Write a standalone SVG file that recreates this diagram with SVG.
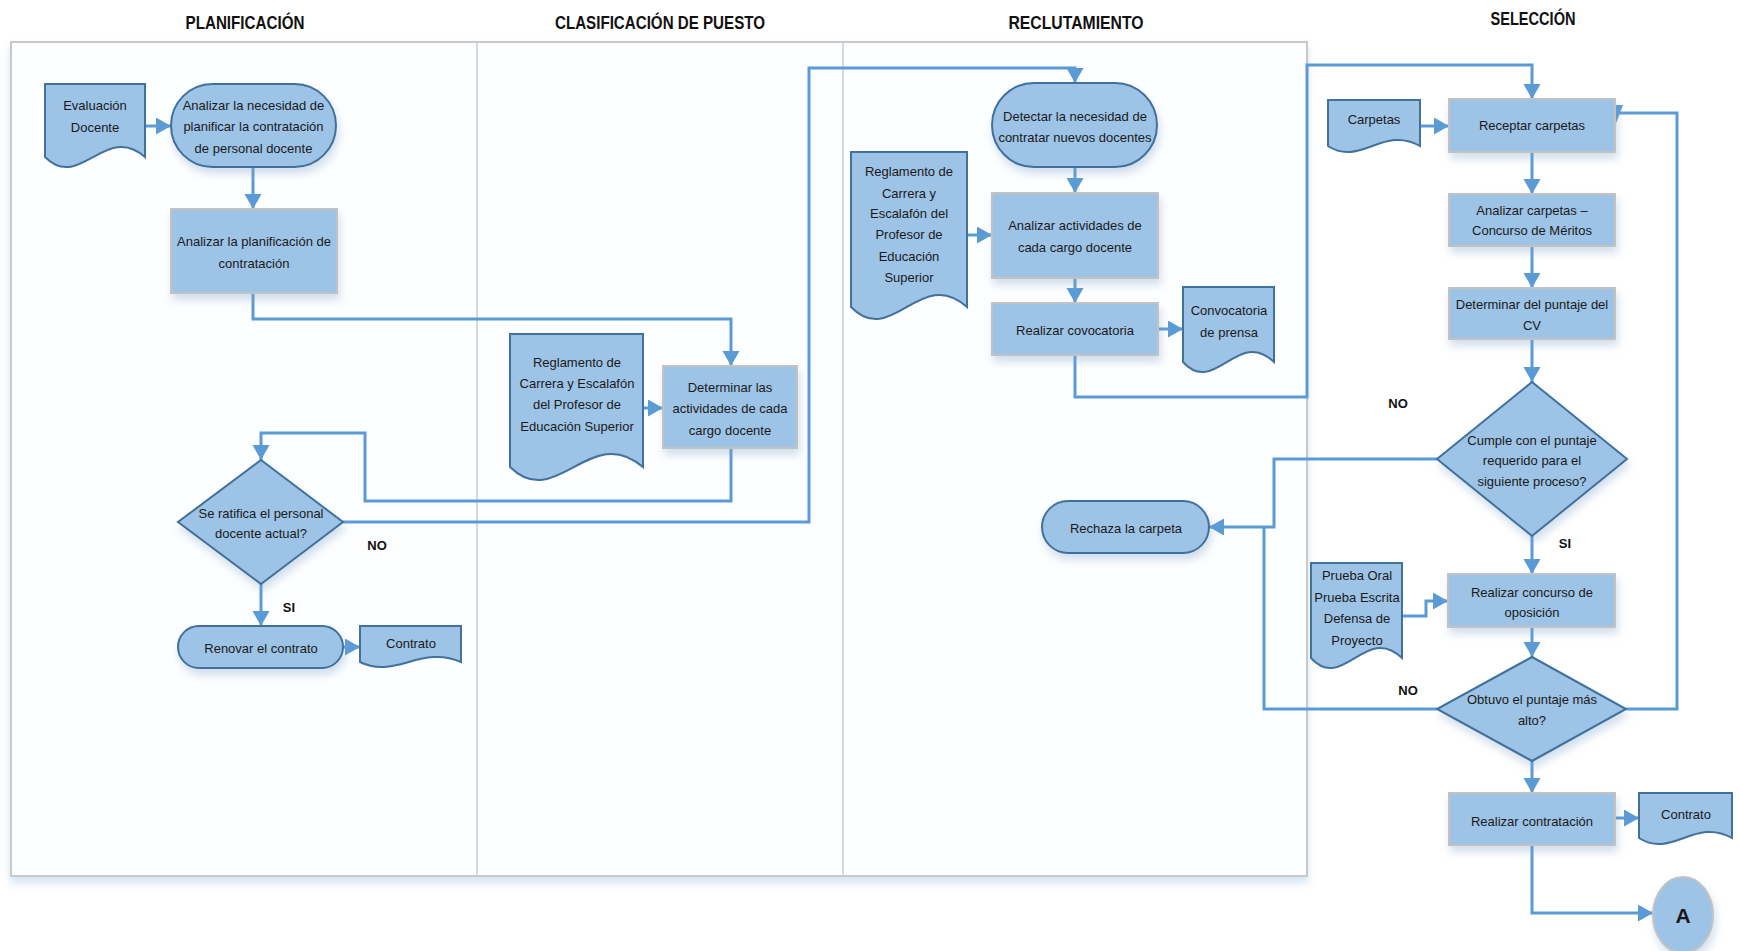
<svg xmlns="http://www.w3.org/2000/svg" width="1740" height="951" viewBox="0 0 1740 951">
  <style>
    text { font-family: "Liberation Sans", Arial, sans-serif; fill: #1a1a1a; }
    .t { font-size: 13px; text-anchor: middle; }
    .title { font-size: 19px; font-weight: bold; text-anchor: middle; fill: #111; }
    .lbl { font-size: 13px; font-weight: bold; text-anchor: middle; fill: #111; }
    .proc { fill: #9DC3E6; stroke: #C2C2C2; stroke-width: 2; filter: url(#shadow); }
    .term { fill: #9DC3E6; stroke: #41719C; stroke-width: 2; filter: url(#shadow); }
    .doc { fill: #9DC3E6; stroke: #41719C; stroke-width: 2; }
    .dec { fill: #9DC3E6; stroke: #41719C; stroke-width: 2; filter: url(#shadow); }
    .conn path { fill: none; stroke: #5B9BD5; stroke-width: 3; }
    .arr { marker-end: url(#arrow); }
    .lane { stroke: #C9CDD3; stroke-width: 1.5; }
  </style>
  <defs>
    <marker id="arrow" markerUnits="userSpaceOnUse" markerWidth="16" markerHeight="18" refX="15" refY="8.5" orient="auto">
      <path d="M0,0 L15,8.5 L0,17 Z" fill="#5B9BD5"/>
    </marker>
    <filter id="shadow" x="-20%" y="-20%" width="140%" height="160%">
      <feDropShadow dx="2" dy="6" stdDeviation="4" flood-color="#7FA3C8" flood-opacity="0.35"/>
    </filter>
    <filter id="frameShadow" x="-5%" y="-5%" width="110%" height="115%">
      <feDropShadow dx="0" dy="6" stdDeviation="4" flood-color="#9DC3E6" flood-opacity="0.45"/>
    </filter>
  </defs>

  <rect x="0" y="0" width="1740" height="951" fill="#ffffff"/>

  <!-- swimlane frame -->
  <g id="frame">
    <rect x="11" y="42" width="1296" height="834" fill="#FDFEFF" stroke="#C8C8C8" stroke-width="2" filter="url(#frameShadow)"/>
    <line class="lane" x1="477" y1="42" x2="477" y2="876"/>
    <line class="lane" x1="843" y1="42" x2="843" y2="876"/>
  </g>

  <!-- lane titles -->
  <g id="titles">
    <text class="title" x="245" y="29" textLength="119" lengthAdjust="spacingAndGlyphs">PLANIFICACIÓN</text>
    <text class="title" x="660" y="29" textLength="210" lengthAdjust="spacingAndGlyphs">CLASIFICACIÓN DE PUESTO</text>
    <text class="title" x="1076" y="29" textLength="135" lengthAdjust="spacingAndGlyphs">RECLUTAMIENTO</text>
    <text class="title" x="1533" y="25" textLength="85" lengthAdjust="spacingAndGlyphs">SELECCIÓN</text>
  </g>

  <!-- connectors -->
  <g id="connectors" class="conn">
    <path class="arr" d="M145,126 H171"/>
    <path class="arr" d="M253,167 V209"/>
    <path class="arr" d="M253,293 V319 H731 V366"/>
    <path class="arr" d="M643,408 H663"/>
    <path class="arr" d="M731,448 V501 H365 V433 H261 V460"/>
    <path class="arr" d="M343,522 H809 V68 H1075 V83"/>
    <path class="arr" d="M261,584 V626"/>
    <path class="arr" d="M343,647 H360"/>
    <path class="arr" d="M1075,167 V193"/>
    <path class="arr" d="M967,235 H992"/>
    <path class="arr" d="M1075,278 V303"/>
    <path class="arr" d="M1158,329 H1183"/>
    <path class="arr" d="M1075,355 V397 H1307 V65 H1532 V99"/>
    <path class="arr" d="M1420,126 H1449"/>
    <path class="arr" d="M1532,152 V194"/>
    <path class="arr" d="M1532,246 V288"/>
    <path class="arr" d="M1532,339 V382"/>
    <path class="arr" d="M1437,459 H1274 V527 H1209"/>
    <path d="M1437,709 H1264 V527"/>
    <path class="arr" d="M1532,536 V574"/>
    <path class="arr" d="M1402,616 H1426 V601 H1448"/>
    <path class="arr" d="M1532,627 V657"/>
    <path d="M1626,709 H1677 V113 H1618"/>
    <polygon points="1607,105 1623,105 1615,126" fill="#5B9BD5"/>
    <path class="arr" d="M1532,761 V793"/>
    <path class="arr" d="M1615,818 H1639"/>
    <path class="arr" d="M1532,845 V913 H1653"/>
  </g>

  <!-- branch labels -->
  <g id="labels">
    <text class="lbl" x="377" y="550">NO</text>
    <text class="lbl" x="289" y="612">SI</text>
    <text class="lbl" x="1398" y="408">NO</text>
    <text class="lbl" x="1565" y="548">SI</text>
    <text class="lbl" x="1408" y="695">NO</text>
  </g>

  <!-- PLANIFICACIÓN -->
  <g id="doc-evaluacion">
    <path class="doc" d="M45,84 H145 V157 C105,122 80,192 45,157 Z"/>
    <text class="t" x="95" y="110">Evaluación</text>
    <text class="t" x="95" y="132">Docente</text>
  </g>
  <g id="analizar-necesidad">
    <rect class="term" x="171" y="84" width="165" height="83" rx="41.5"/>
    <text class="t" x="253.5" y="110">Analizar la necesidad de</text>
    <text class="t" x="253.5" y="131">planificar la contratación</text>
    <text class="t" x="253.5" y="153">de personal docente</text>
  </g>
  <g id="analizar-planificacion">
    <rect class="proc" x="171" y="209" width="166" height="84"/>
    <text class="t" x="254" y="246">Analizar la planificación de</text>
    <text class="t" x="254" y="268">contratación</text>
  </g>
  <g id="ratifica-personal">
    <path class="dec" d="M261,460 L343,522 L261,584 L178,522 Z"/>
    <text class="t" x="261" y="518">Se ratifica el personal</text>
    <text class="t" x="261" y="538">docente actual?</text>
  </g>
  <g id="renovar-contrato">
    <rect class="term" x="178" y="626" width="165" height="42" rx="21"/>
    <text class="t" x="261" y="653">Renovar el contrato</text>
  </g>
  <g id="doc-contrato-1">
    <path class="doc" d="M360,626 H461 V662 C421,644.5 395,679.5 360,662 Z"/>
    <text class="t" x="411" y="648">Contrato</text>
  </g>

  <!-- CLASIFICACIÓN DE PUESTO -->
  <g id="doc-reglamento-1">
    <path class="doc" d="M510,334 H643 V467 C590,421.5 556.5,512.5 510,467 Z"/>
    <text class="t" x="577" y="367">Reglamento de</text>
    <text class="t" x="577" y="388">Carrera y Escalafón</text>
    <text class="t" x="577" y="409">del Profesor de</text>
    <text class="t" x="577" y="431">Educación Superior</text>
  </g>
  <g id="determinar-actividades">
    <rect class="proc" x="663" y="366" width="134" height="82"/>
    <text class="t" x="730" y="392">Determinar las</text>
    <text class="t" x="730" y="413">actividades de cada</text>
    <text class="t" x="730" y="435">cargo docente</text>
  </g>

  <!-- RECLUTAMIENTO -->
  <g id="detectar-necesidad">
    <rect class="term" x="992" y="83" width="165" height="84" rx="42"/>
    <text class="t" x="1075" y="121">Detectar la necesidad de</text>
    <text class="t" x="1075" y="142">contratar nuevos docentes</text>
  </g>
  <g id="doc-reglamento-2">
    <path class="doc" d="M851,152 H967 V307 C920.6,265 891.6,349 851,307 Z"/>
    <text class="t" x="909" y="176">Reglamento de</text>
    <text class="t" x="909" y="198">Carrera y</text>
    <text class="t" x="909" y="218">Escalafón del</text>
    <text class="t" x="909" y="239">Profesor de</text>
    <text class="t" x="909" y="261">Educación</text>
    <text class="t" x="909" y="282">Superior</text>
  </g>
  <g id="analizar-actividades">
    <rect class="proc" x="992" y="193" width="166" height="85"/>
    <text class="t" x="1075" y="230">Analizar actividades de</text>
    <text class="t" x="1075" y="252">cada cargo docente</text>
  </g>
  <g id="realizar-covocatoria">
    <rect class="proc" x="992" y="303" width="166" height="52"/>
    <text class="t" x="1075" y="335">Realizar covocatoria</text>
  </g>
  <g id="doc-convocatoria">
    <path class="doc" d="M1183,287 H1274 V362 C1237.6,327 1214.9,397 1183,362 Z"/>
    <text class="t" x="1229" y="315">Convocatoria</text>
    <text class="t" x="1229" y="337">de prensa</text>
  </g>
  <g id="rechaza-carpeta">
    <rect class="term" x="1042" y="501" width="167" height="52" rx="26"/>
    <text class="t" x="1126" y="533">Rechaza la carpeta</text>
  </g>

  <!-- SELECCIÓN -->
  <g id="doc-carpetas">
    <path class="doc" d="M1328,100 H1420 V146 C1383.2,125 1360.2,167 1328,146 Z"/>
    <text class="t" x="1374" y="124">Carpetas</text>
  </g>
  <g id="receptar-carpetas">
    <rect class="proc" x="1449" y="99" width="166" height="53"/>
    <text class="t" x="1532" y="130">Receptar carpetas</text>
  </g>
  <g id="analizar-carpetas">
    <rect class="proc" x="1449" y="194" width="166" height="52"/>
    <text class="t" x="1532" y="215">Analizar carpetas –</text>
    <text class="t" x="1532" y="235">Concurso de Méritos</text>
  </g>
  <g id="determinar-puntaje">
    <rect class="proc" x="1449" y="288" width="166" height="51"/>
    <text class="t" x="1532" y="309">Determinar del puntaje del</text>
    <text class="t" x="1532" y="330">CV</text>
  </g>
  <g id="cumple-puntaje">
    <path class="dec" d="M1532,382 L1627,459 L1532,536 L1437,459 Z"/>
    <text class="t" x="1532" y="445">Cumple con el puntaje</text>
    <text class="t" x="1532" y="465">requerido para el</text>
    <text class="t" x="1532" y="486">siguiente proceso?</text>
  </g>
  <g id="doc-pruebas">
    <path class="doc" d="M1311,563 H1402 V658 C1365.6,623 1342.9,693 1311,658 Z"/>
    <text class="t" x="1357" y="580">Prueba Oral</text>
    <text class="t" x="1357" y="602">Prueba Escrita</text>
    <text class="t" x="1357" y="623">Defensa de</text>
    <text class="t" x="1357" y="645">Proyecto</text>
  </g>
  <g id="concurso-oposicion">
    <rect class="proc" x="1448" y="574" width="167" height="53"/>
    <text class="t" x="1532" y="597">Realizar concurso de</text>
    <text class="t" x="1532" y="617">oposición</text>
  </g>
  <g id="obtuvo-puntaje">
    <path class="dec" d="M1532,657 L1626,709 L1532,761 L1437,709 Z"/>
    <text class="t" x="1532" y="704">Obtuvo el puntaje más</text>
    <text class="t" x="1532" y="725">alto?</text>
  </g>
  <g id="realizar-contratacion">
    <rect class="proc" x="1449" y="793" width="166" height="52"/>
    <text class="t" x="1532" y="826">Realizar contratación</text>
  </g>
  <g id="doc-contrato-2">
    <path class="doc" d="M1639,793 H1732 V838 C1694.8,817 1671.6,859 1639,838 Z"/>
    <text class="t" x="1686" y="819">Contrato</text>
  </g>
  <g id="conector-a">
    <ellipse cx="1683" cy="915" rx="30" ry="38" fill="#9DC3E6" stroke="#C2C2C2" stroke-width="2" filter="url(#shadow)"/>
    <text x="1683" y="923" font-size="21" font-weight="bold" text-anchor="middle" fill="#111">A</text>
  </g>
</svg>
